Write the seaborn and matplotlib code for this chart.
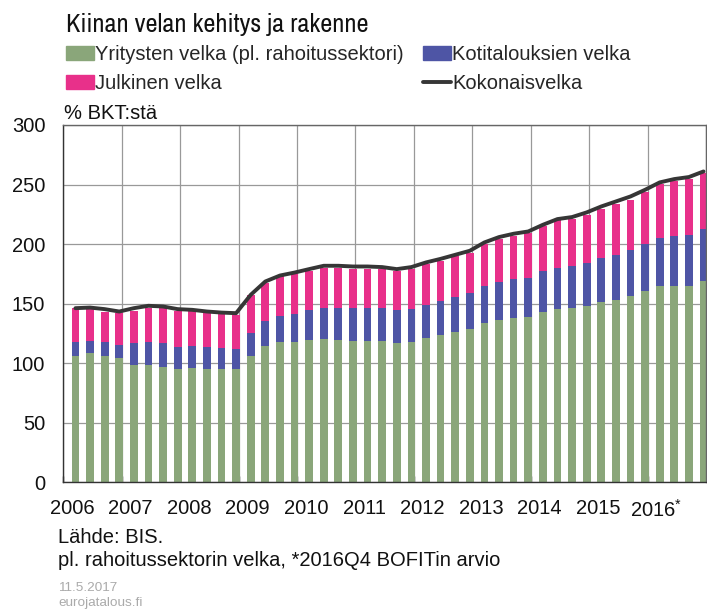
import numpy as np
import matplotlib.pyplot as plt
import seaborn as sns
from matplotlib.patches import Patch
from matplotlib.lines import Line2D

# =========================
# Data (% of GDP, quarterly 2006Q1 - 2016Q4)
# =========================
vuodet = list(range(2006, 2017))
vuosi_labels = [str(v) for v in vuodet[:-1]] + ['2016$^{*}$']

yritys = [106.1, 108.4, 106.4, 104.7, 98.7, 98.7, 97.1, 95.2, 95.8, 95.0, 95.0, 95.0,
          106.1, 114.5, 117.6, 118.2, 119.3, 120.2, 119.6, 118.7, 118.7, 118.3, 116.8, 118.2,
          121.5, 123.5, 126.0, 128.6, 133.6, 136.1, 137.8, 139.2, 142.9, 145.6, 146.2, 148.2,
          151.3, 153.4, 156.6, 160.8, 164.4, 165.2, 164.4, 169.2]

koti = [12.1, 10.3, 11.2, 10.7, 18.3, 18.9, 19.9, 18.8, 18.7, 18.4, 18.1, 17.3,
        19.1, 21.0, 22.4, 23.5, 25.5, 26.5, 27.1, 27.5, 27.5, 27.9, 28.0, 27.4,
        27.5, 28.9, 29.5, 30.2, 30.8, 32.0, 33.0, 32.7, 34.1, 34.6, 35.0, 35.8,
        36.7, 37.6, 38.2, 39.2, 40.6, 41.8, 43.4, 43.4]

julkinen = [28.5, 26.7, 25.8, 26.6, 27.2, 28.6, 29.2, 30.0, 29.5, 28.6, 28.1, 28.5,
            32.2, 31.7, 32.8, 33.1, 32.8, 33.1, 33.1, 33.0, 33.0, 33.0, 32.8, 33.4,
            34.2, 33.6, 34.1, 33.6, 35.9, 36.1, 36.2, 37.3, 37.8, 39.8, 39.8, 40.2,
            41.4, 42.3, 42.4, 44.0, 45.5, 46.0, 46.7, 46.8]

kokonais = [146.2, 146.7, 145.4, 143.4, 146.2, 148.2, 147.6, 145.4, 144.8, 143.4, 142.5, 142.0,
            157.4, 168.6, 173.6, 176.1, 179.0, 181.8, 181.8, 181.2, 181.2, 180.7, 179.0, 180.7,
            184.6, 187.6, 191.0, 194.4, 201.4, 205.9, 208.7, 210.6, 216.2, 221.0, 222.7, 226.6,
            231.6, 235.8, 240.0, 245.6, 251.8, 254.6, 256.3, 261.0]

labels = ['Yritysten velka (pl. rahoitussektori)', 'Kotitalouksien velka',
          'Julkinen velka', 'Kokonaisvelka']
colors = ['#8aa67a', '#4e55a5', '#e8308a', '#363636']

# =========================
# Positions / stacking
# =========================
n = len(yritys)
x = 2006 + (np.arange(n) + 0.83) / 4
cum1 = np.array(yritys)
cum2 = cum1 + np.array(koti)
cum3 = cum2 + np.array(julkinen)

# =========================
# Plot
# =========================
sns.set_theme(style='white')
plt.rcParams['font.family'] = ['Liberation Sans', 'DejaVu Sans']
plt.rcParams['mathtext.default'] = 'regular'

W, H = 707, 616
fig = plt.figure(figsize=(W / 100, H / 100), dpi=100)
ax = fig.add_axes([63.3 / W, 1 - 482.3 / H, (706 - 63.3) / W, (482.3 - 125) / H])

for vals, c in [(cum3, colors[2]), (cum2, colors[1]), (cum1, colors[0])]:
    sns.barplot(x=x, y=vals, native_scale=True, width=0.53, color=c,
                saturation=1, linewidth=0, errorbar=None, ax=ax)

sns.lineplot(x=x, y=kokonais, color=colors[3], linewidth=2.8, ax=ax)

ax.set_xlim(2006, 2017)
ax.set_ylim(0, 300)
ax.set_yticks(range(0, 301, 50))
ax.set_xticks([v + 0.15 for v in vuodet])
ax.set_xticklabels(vuosi_labels)
ax.set_xticks(range(2006, 2018), minor=True)
ax.set_xlabel('')
ax.set_ylabel('')

ax.tick_params(axis='x', which='major', length=0, pad=12, labelsize=14.5, colors='#111111')
ax.tick_params(axis='x', which='minor', length=4, direction='in', color='#333333', bottom=True)
ax.tick_params(axis='y', length=0, pad=13, labelsize=14.5, colors='#111111')

ax.set_axisbelow(True)
ax.grid(False)
ax.grid(True, which='minor', axis='x', color='#999999', linewidth=0.9)
ax.grid(True, which='major', axis='y', color='#999999', linewidth=0.9)
for s in ax.spines.values():
    s.set_color('#666666')
    s.set_linewidth(1)
ax.spines['left'].set_color('#333333')
ax.spines['bottom'].set_color('#333333')

# Legend
handles = [Patch(color=colors[0]), Patch(color=colors[2]),
           Patch(color=colors[1]), Line2D([], [], color=colors[3], linewidth=2.8)]
leg_labels = [labels[0], labels[2], labels[1], labels[3]]
fig.legend(handles, leg_labels, ncol=2, loc='upper left',
           bbox_to_anchor=(66 / W, 1 - 45 / H), frameon=False, fontsize=14.5,
           handlelength=1.4, handleheight=0.7, handletextpad=0.05,
           columnspacing=0.95, labelspacing=0.5, borderaxespad=0, borderpad=0)

# Texts
fig.text(66 / W, 1 - 32 / H, 'Kiinan velan kehitys ja rakenne', fontsize=19,
         family=['Archivo Narrow', 'Liberation Sans'], va='baseline', color='#111111')
fig.text(64 / W, 1 - 119 / H, '% BKT:stä', fontsize=14.5, va='baseline', color='#111111')
fig.text(58 / W, 1 - 543 / H, 'Lähde: BIS.', fontsize=14.5, va='baseline', color='#111111')
fig.text(58 / W, 1 - 566 / H, 'pl. rahoitussektorin velka, *2016Q4 BOFITin arvio',
         fontsize=14.5, va='baseline', color='#111111')
fig.text(58 / W, 1 - 591 / H, '11.5.2017', fontsize=9.7, va='baseline', color='#aaaaaa')
fig.text(58 / W, 1 - 606 / H, 'eurojatalous.fi', fontsize=9.7, va='baseline', color='#aaaaaa')

fig.savefig('out.png', dpi=100)
